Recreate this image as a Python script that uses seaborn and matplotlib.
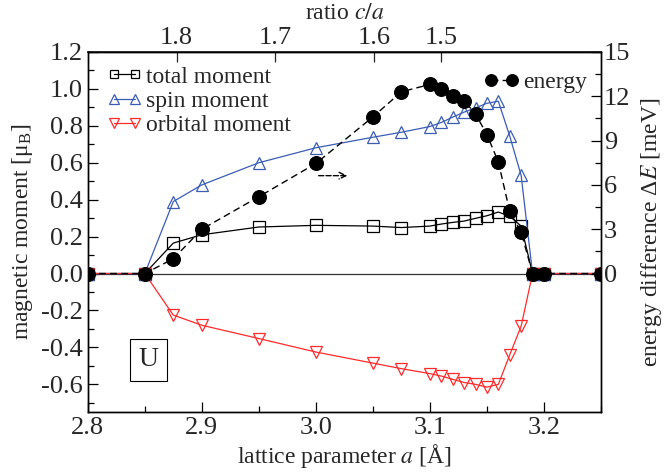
import matplotlib
matplotlib.use("Agg")
import matplotlib.pyplot as plt
import pandas as pd
import seaborn as sns

# lattice parameter a [Angstrom]
lattice_a = [2.80, 2.85, 2.875, 2.90, 2.95, 3.00, 3.05, 3.075, 3.10, 3.11, 3.12,
             3.13, 3.14, 3.15, 3.16, 3.17, 3.18, 3.19, 3.20, 3.25]
total_moment = [0.0, 0.0, 0.165, 0.21, 0.252, 0.261, 0.257, 0.249, 0.257, 0.268, 0.277,
                0.284, 0.299, 0.313, 0.333, 0.31, 0.257, 0.0, 0.0, 0.0]
spin_moment = [0.0, 0.0, 0.39, 0.48, 0.60, 0.681, 0.738, 0.765, 0.796, 0.818, 0.847,
               0.874, 0.897, 0.922, 0.933, 0.744, 0.531, 0.0, 0.0, 0.0]
orbital_moment = [0.0, 0.0, -0.225, -0.28, -0.352, -0.425, -0.485, -0.515, -0.542, -0.555, -0.573,
                  -0.59, -0.60, -0.615, -0.60, -0.44, -0.285, 0.0, 0.0, 0.0]
energy_mev = [0.0, 0.0, 1.0, 3.0, 5.2, 7.45, 10.6, 12.3, 12.8, 12.5, 12.0,
              11.7, 10.8, 9.4, 7.55, 4.2, 2.8, 0.0, 0.0, 0.0]

# top axis: c/a ratio at given lattice parameter
top_tick_a = [2.878, 2.964, 3.051, 3.110]
top_tick_labels = ["1.8", "1.7", "1.6", "1.5"]

df = pd.DataFrame({"a": lattice_a, "total": total_moment, "spin": spin_moment,
                   "orbital": orbital_moment, "energy": energy_mev})

sns.set_theme(style="ticks")
plt.rcParams["font.family"] = ["Liberation Serif", "DejaVu Serif"]
plt.rcParams["mathtext.fontset"] = "stix"
plt.rcParams["xtick.direction"] = "in"
plt.rcParams["ytick.direction"] = "in"

fig = plt.figure(figsize=(6.7, 4.72), dpi=100)
ax = fig.add_axes([0.131, 0.127, 0.766, 0.763])

blue = "#3a5cb5"
red = "#ff2a2a"
lw = 0.9

ax.axhline(0, color="#333333", linewidth=0.9, zorder=1)

sns.lineplot(data=df, x="a", y="total", ax=ax, color="black", linewidth=lw,
             marker="s", markersize=8, markerfacecolor="none", markeredgecolor="black",
             markeredgewidth=0.9, label="total moment")
sns.lineplot(data=df, x="a", y="spin", ax=ax, color=blue, linewidth=lw,
             marker="^", markersize=9, markerfacecolor="none", markeredgecolor=blue,
             markeredgewidth=0.9, label="spin moment")
sns.lineplot(data=df, x="a", y="orbital", ax=ax, color=red, linewidth=lw,
             marker="v", markersize=9, markerfacecolor="none", markeredgecolor=red,
             markeredgewidth=0.9, label="orbital moment")

ax.set_xlim(2.8, 3.25)
ax.set_ylim(-0.75, 1.2)
ax.set_xticks([2.8, 2.9, 3.0, 3.1, 3.2])
ax.set_xticks([2.85, 2.95, 3.05, 3.15, 3.25], minor=True)
ax.set_yticks([-0.6, -0.4, -0.2, 0.0, 0.2, 0.4, 0.6, 0.8, 1.0, 1.2])
ax.set_yticks([-0.7, -0.5, -0.3, -0.1, 0.1, 0.3, 0.5, 0.7, 0.9, 1.1], minor=True)
ax.set_yticklabels(["-0.6", "-0.4", "-0.2", "0.0", "0.2", "0.4", "0.6", "0.8", "1.0", "1.2"])
ax.tick_params(axis="both", which="major", length=7, width=0.9, labelsize=19, color="black")
ax.tick_params(axis="both", which="minor", length=4, width=0.9, color="black")
ax.tick_params(axis="x", which="both", top=False)
ax.set_xlabel("lattice parameter $a$ [Å]", fontsize=17, labelpad=2)
ax.set_ylabel("magnetic moment [μ$_\\mathregular{B}$]", fontsize=17, labelpad=4)

leg = ax.legend(loc="upper left", bbox_to_anchor=(0.01, 1.0), frameon=False, fontsize=17,
                numpoints=2, handlelength=1.5, handletextpad=0.15, labelspacing=0.12,
                borderaxespad=0.2, markerscale=0.8)

ax2 = ax.twinx()
sns.lineplot(data=df, x="a", y="energy", ax=ax2, color="black", linewidth=1.0,
             linestyle=(0, (5, 3)), marker="o", markersize=10, markeredgecolor="black",
             markerfacecolor="black", label="energy")
ax2.set_ylim(-0.75 * 12.5, 15)
ax2.set_yticks([0, 3, 6, 9, 12, 15])
ax2.set_yticks([1.5, 4.5, 7.5, 10.5, 13.5], minor=True)
ax2.tick_params(axis="y", which="major", length=7, width=0.9, labelsize=19, pad=2, color="black")
ax2.tick_params(axis="y", which="minor", length=4, width=0.9, color="black")
ax2.set_ylabel("energy difference Δ$E$ [meV]", fontsize=17, labelpad=6)
ax2.legend(loc="upper right", bbox_to_anchor=(1.0, 0.985), frameon=False, fontsize=17,
           numpoints=2, handlelength=1.5, handletextpad=0.15, borderaxespad=0.2,
           markerscale=0.85)

top = ax.secondary_xaxis("top")
top.set_xticks(top_tick_a)
top.set_xticklabels(top_tick_labels)
top.tick_params(axis="x", direction="in", length=7, width=0.9, labelsize=19, pad=2)
top.set_xlabel("ratio $c/a$", fontsize=17, labelpad=6)

ax.annotate("", xy=(3.03, 0.53), xytext=(3.0, 0.53),
            arrowprops=dict(arrowstyle="->", linestyle="--", color="black", lw=1.0))

ax.text(0.118, 0.145, "U", transform=ax.transAxes, fontsize=20, ha="center", va="center",
        bbox=dict(boxstyle="square,pad=0.3", facecolor="white", edgecolor="black", linewidth=0.8))

for a_ in (ax, ax2):
    for s in a_.spines.values():
        s.set_linewidth(1.0)
        s.set_color("black")

fig.savefig("out.png", dpi=100)
